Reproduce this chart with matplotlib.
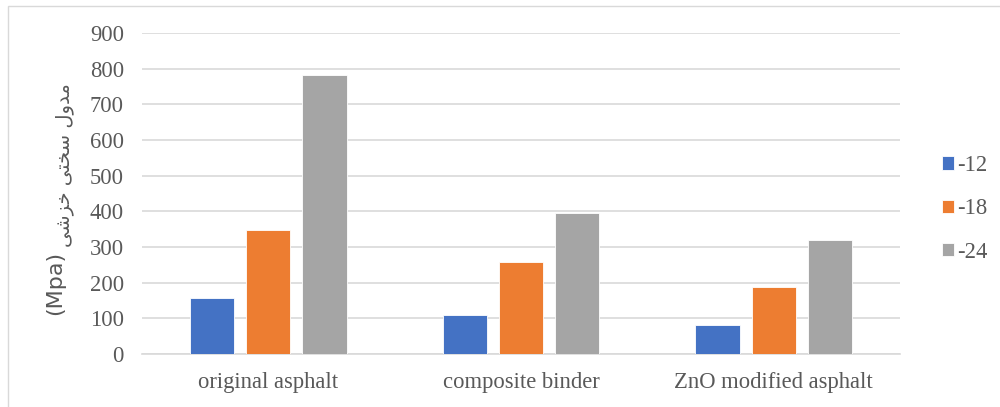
import matplotlib.pyplot as plt
import matplotlib.patches as mpatches
import numpy as np

categories = ['original asphalt', 'composite binder', 'ZnO modified asphalt']
series = ['-12', '-18', '-24']
v_12 = [156, 110, 82]
v_18 = [349, 258, 189]
v_24 = [782, 394, 321]
colors = ['#4472C4', '#ED7D31', '#A5A5A5']

plt.rcParams['font.family'] = ['Liberation Serif', 'DejaVu Serif']

fig = plt.figure(figsize=(10, 4.07), dpi=100)
ax = fig.add_axes([0.142, (407 - 354) / 407, 0.758, (354 - 33) / 407])

x = np.arange(len(categories))
w = 0.175
step = 0.222
for i, (vals, c, lab) in enumerate(zip([v_12, v_18, v_24], colors, series)):
    ax.bar(x + (i - 1) * step, vals, width=w, color=c, label=lab,
           edgecolor='white', linewidth=0.6, zorder=3)

ax.set_xlim(-0.5, 2.5)
ax.set_ylim(0, 900)
ax.set_yticks(range(0, 901, 100))
ax.set_xticks(x)
ax.set_xticklabels(categories)
ax.yaxis.grid(True, color='#d9d9d9', linewidth=1.2, zorder=0)
ax.tick_params(axis='both', length=0, labelsize=16.3, labelcolor='#595959')
ax.tick_params(axis='y', pad=13)
ax.tick_params(axis='x', pad=13)
for s in ['top', 'right', 'left']:
    ax.spines[s].set_visible(False)
ax.spines['bottom'].set_color('#d9d9d9')
ax.spines['bottom'].set_linewidth(1.2)

# y label: Persian part (visual order, presentation forms) + (Mpa)
persian = ('\uFBFD\uFEB7\uFEB0\uFEA7' + ' ' + '\uFBFD\uFE98\uFEA8\uFEB3'
           + ' ' + '\uFEDD\uFEED\uFEAA\uFEE3')
fig.text(0.055, (407 - 283) / 407, '(Mpa)', rotation=90, ha='center',
         va='center', fontsize=16, color='#595959', family=['DejaVu Sans'])
fig.text(0.064, (407 - 165) / 407, persian, rotation=90, ha='center',
         va='center', fontsize=14, color='#595959', family=['DejaVu Sans'])

leg = ax.legend(loc='center left', bbox_to_anchor=(1.028, 0.452), frameon=False,
                fontsize=16.3, handlelength=0.55, handleheight=0.55,
                handletextpad=0.15, labelspacing=0.98, labelcolor='#595959')

fig.patches.append(mpatches.Rectangle((0.008, -0.01), 1.1, 0.995,
                                      transform=fig.transFigure, fill=False,
                                      edgecolor='#d9d9d9', linewidth=1))

plt.savefig('out.png', dpi=100)
